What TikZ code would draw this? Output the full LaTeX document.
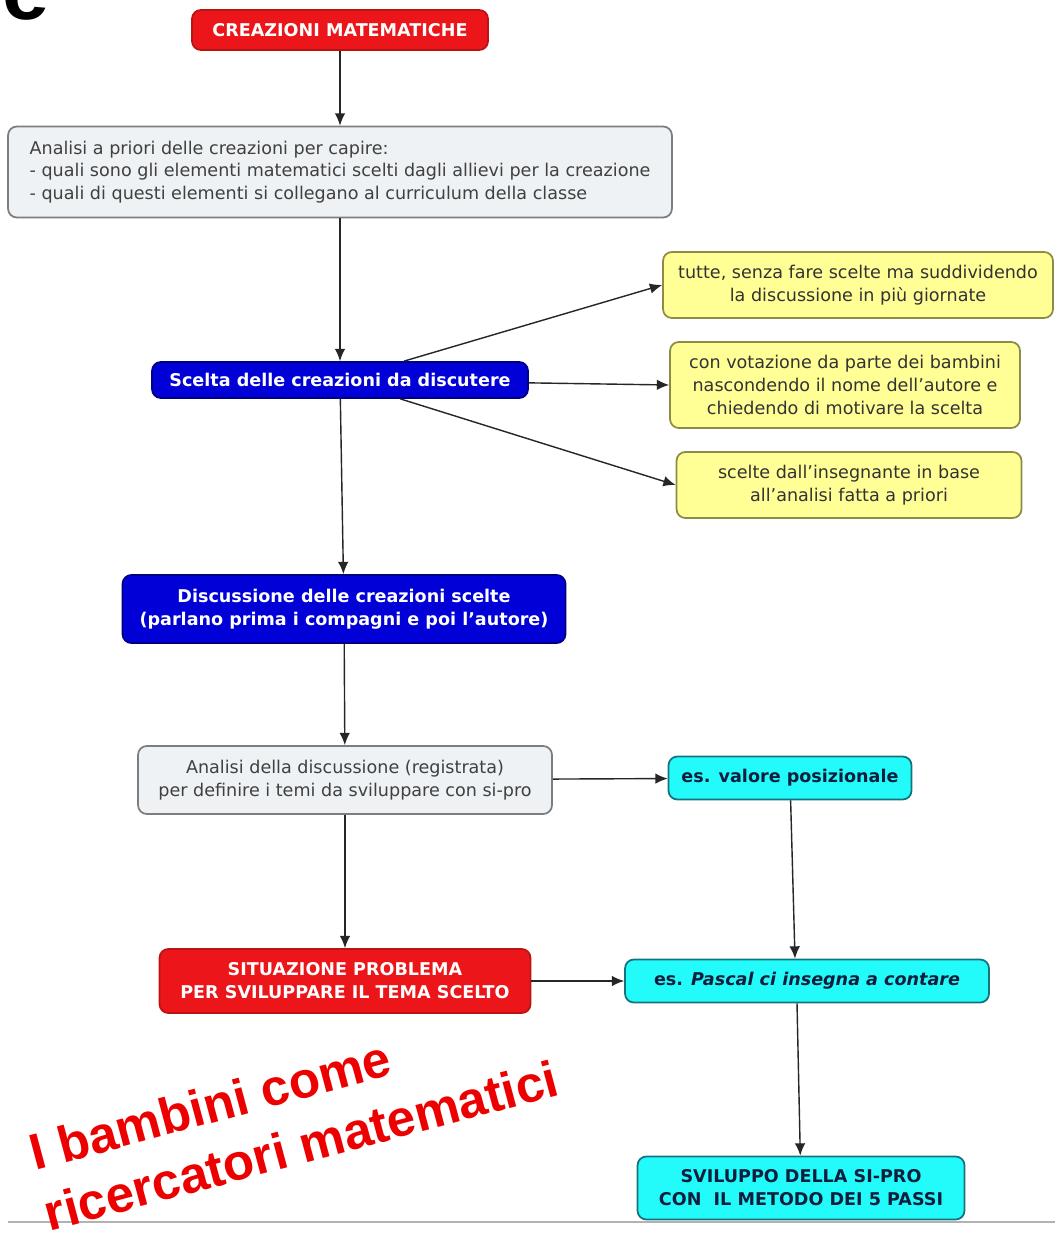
\documentclass[tikz,border=0pt]{standalone}
\usepackage{fontspec}
\setmainfont{DejaVu Sans}
\newfontfamily\titlefont{Liberation Sans}
\usetikzlibrary{arrows.meta}
\definecolor{mapred}{RGB}{236,22,26}
\definecolor{mapredline}{RGB}{185,20,20}
\definecolor{mapblue}{RGB}{0,0,215}
\definecolor{mapblueline}{RGB}{0,0,130}
\definecolor{mapgrey}{RGB}{238,242,244}
\definecolor{mapgreyline}{RGB}{125,125,125}
\definecolor{mapyellow}{RGB}{255,255,150}
\definecolor{mapyellowline}{RGB}{140,140,70}
\definecolor{mapcyan}{RGB}{35,250,250}
\definecolor{mapcyanline}{RGB}{20,115,125}
\definecolor{navytext}{RGB}{15,30,60}
\definecolor{bigred}{RGB}{236,0,0}

\begin{document}
\begin{tikzpicture}[x=0.02cm, y=-0.02cm, >={Latex[length=7pt,width=6pt]},
    box/.style={rectangle, rounded corners=5pt, draw, line width=1pt, inner sep=2pt, align=center, font=\fontsize{10}{13}\selectfont},
    redbox/.style={box, fill=mapred, draw=mapredline, text=white, font=\fontsize{10}{13}\selectfont\bfseries},
    bluebox/.style={box, fill=mapblue, draw=mapblueline, text=white, font=\fontsize{10}{13}\selectfont\bfseries},
    greybox/.style={box, fill=mapgrey, draw=mapgreyline, text=black!75},
    yellowbox/.style={box, fill=mapyellow, draw=mapyellowline, text=black!80},
    cyanbox/.style={box, fill=mapcyan, draw=mapcyanline, text=navytext, font=\fontsize{10}{13}\selectfont\bfseries},
    arrowline/.style={->, line width=0.8pt, black!85},
    bigtext/.style={anchor=base west, rotate=15, text=bigred, font=\titlefont\bfseries\fontsize{29}{29}\selectfont}]
\fill [white] (0, 0) rectangle (1055, 1236);
\useasboundingbox (0, 0) rectangle (1055, 1236);

\node at (-4, 20) [anchor=base west, font=\titlefont\bfseries\fontsize{48}{48}\selectfont] (cut) {e};

%main column
\node at (340, 30) [redbox, minimum width=5.92cm, minimum height=0.8cm] (creazioni) {CREAZIONI MATEMATICHE};
\node at (340, 172) [greybox, align=left, minimum width=13.28cm, minimum height=1.82cm] (apriori) {Analisi a priori delle creazioni per capire:\\- quali sono gli elementi matematici scelti dagli allievi per la creazione\\- quali di questi elementi si collegano al curriculum della classe};
\node at (340, 380) [bluebox, minimum width=7.52cm, minimum height=0.72cm] (scelta) {Scelta delle creazioni da discutere};
\node at (344, 609) [bluebox, minimum width=8.86cm, minimum height=1.36cm] (discussione) {Discussione delle creazioni scelte\\(parlano prima i compagni e poi l'autore)};
\node at (345, 780) [greybox, minimum width=8.28cm, minimum height=1.36cm] (registrata) {Analisi della discussione (registrata)\\per definire i temi da sviluppare con si-pro};
\node at (345, 981) [redbox, minimum width=7.42cm, minimum height=1.28cm] (situazione) {SITUAZIONE PROBLEMA\\PER SVILUPPARE IL TEMA SCELTO};

%ways of choosing
\node at (858, 285) [yellowbox, minimum width=7.8cm, minimum height=1.32cm] (tutte) {tutte, senza fare scelte ma suddividendo\\la discussione in più giornate};
\node at (845, 385) [yellowbox, minimum width=7.0cm, minimum height=1.72cm] (votazione) {con votazione da parte dei bambini\\nascondendo il nome dell'autore e\\chiedendo di motivare la scelta};
\node at (849, 485) [yellowbox, minimum width=6.9cm, minimum height=1.32cm] (insegnante) {scelte dall'insegnante in base\\all'analisi fatta a priori};

%examples
\node at (790, 778) [cyanbox, minimum width=4.86cm, minimum height=0.86cm] (valore) {es. valore posizionale};
\node at (807, 981) [cyanbox, minimum width=7.28cm, minimum height=0.86cm] (pascal) {es. \textit{Pascal ci insegna a contare}};
\node at (801, 1188) [cyanbox, minimum width=6.54cm, minimum height=1.26cm] (sviluppo) {SVILUPPO DELLA SI-PRO\\CON\ \ IL METODO DEI 5 PASSI};

%connections
\draw [arrowline] (creazioni) -- (apriori);
\draw [arrowline] (apriori) -- (scelta);
\draw [arrowline] (scelta) -- (tutte.west);
\draw [arrowline] (scelta) -- (votazione.west);
\draw [arrowline] (scelta) -- (insegnante.west);
\draw [arrowline] (scelta) -- (discussione);
\draw [arrowline] (discussione) -- (registrata);
\draw [arrowline] (registrata) -- (valore);
\draw [arrowline] (registrata) -- (situazione);
\draw [arrowline] (valore) -- ([xshift=-0.24cm]pascal.north);
\draw [arrowline] (situazione) -- (pascal);
\draw [arrowline] ([xshift=-0.2cm]pascal.south) -- (sviluppo);

%title over the map
\draw [black!30, line width=1.2pt] (8, 1222) -- (1055, 1222);
\node at (30, 1172) [bigtext] (title1) {I bambini come};
\node at (44, 1233) [bigtext] (title2) {ricercatori matematici};
\end{tikzpicture}
\end{document}
